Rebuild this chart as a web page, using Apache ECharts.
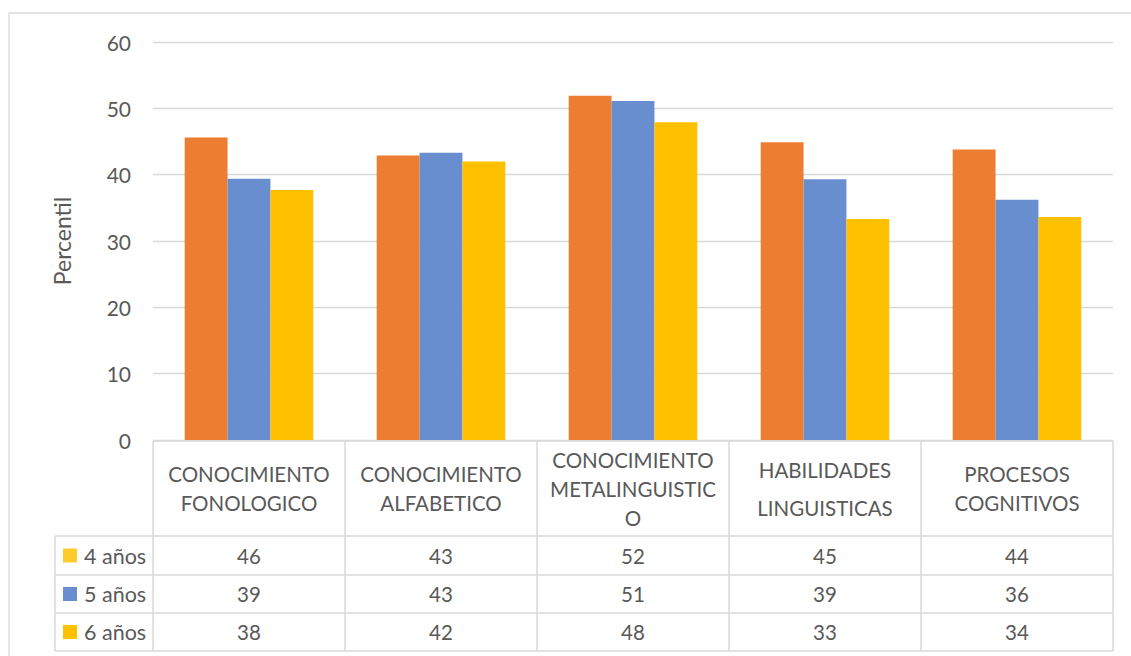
<!DOCTYPE html>
<html><head><meta charset="utf-8">
<script src="https://cdn.jsdelivr.net/npm/echarts@6/dist/echarts.min.js"></script>
<style>html,body{margin:0;padding:0;background:#fff}#c{width:1131px;height:656px}</style>
</head><body><div id="c"></div>
<script>
const categories = ['CONOCIMIENTO\nFONOLOGICO', 'CONOCIMIENTO\nALFABETICO', 'CONOCIMIENTO\nMETALINGUISTIC\nO', 'HABILIDADES\nLINGUISTICAS', 'PROCESOS\nCOGNITIVOS'];
const seriesNames = ['4 años', '5 años', '6 años'];
const values4 = [45.6, 42.9, 51.9, 44.9, 43.8];
const values5 = [39.4, 43.3, 51.1, 39.3, 36.2];
const values6 = [37.7, 42.0, 47.9, 33.3, 33.6];
const yTicks = [0, 10, 20, 30, 40, 50, 60];
const yAxisName = 'Percentil';

const seriesValues = [values4, values5, values6];
const seriesColors = ['#ED7D31', '#698ED0', '#FFC000'];
const keyColors = ['#FFCA2C', '#698ED0', '#FFC000'];
const FONT = 'Lato';
const TXT = '#595959';
const LINE = '#D9D9D9';
const FS = 20.5;

const W = 1131, H = 656;
const gridLeft = 153, gridRight = 18, gridTop = 42, gridBottom = 216;
const plotW = W - gridLeft - gridRight;
const nCat = categories.length;
const colW = plotW / nCat;
const zeroY = H - gridBottom;
const rowLines = [zeroY + 1, 536, 575, 613, 651];
const legendLeft = 55;

const chart = echarts.init(document.getElementById('c'), null, {renderer: 'svg'});

const xAxes = [{
  type: 'category', data: categories, gridIndex: 0, position: 'bottom',
  axisLine: {show: false}, axisTick: {show: false},
  axisLabel: {interval: 0, margin: (rowLines[1] - rowLines[0]) / 2 + 1, verticalAlign: 'middle',
    lineHeight: 29, fontSize: FS, fontFamily: FONT, color: TXT,
    formatter: (v, idx) => idx === 3 ? v.split('\n').map(s => '{w|' + s + '}').join('\n') : v,
    rich: {w: {lineHeight: 38, fontSize: FS, fontFamily: FONT, color: TXT}}}
}];
seriesValues.forEach((vals, i) => {
  const mid = (rowLines[i + 1] + rowLines[i + 2]) / 2;
  xAxes.push({
    type: 'category', data: vals.map(v => String(Math.round(v))), gridIndex: 0, position: 'bottom', offset: 0,
    axisLine: {show: false}, axisTick: {show: false}, splitLine: {show: false},
    axisLabel: {interval: 0, margin: mid - zeroY, verticalAlign: 'middle', fontSize: FS, fontFamily: FONT, color: TXT}
  });
});

const graphics = [];
graphics.push({type: 'rect', shape: {x: 9, y: 13, width: 1130, height: 660},
  style: {fill: 'none', stroke: LINE, lineWidth: 1.3}, silent: true});
rowLines.forEach((y, i) => {
  graphics.push({type: 'line', shape: {x1: i === 0 ? gridLeft : legendLeft, y1: y, x2: W - gridRight, y2: y},
    style: {stroke: LINE, lineWidth: 1.5}, silent: true});
});
for (let i = 0; i <= nCat; i++) {
  const x = gridLeft + i * colW;
  graphics.push({type: 'line', shape: {x1: x, y1: rowLines[0], x2: x, y2: rowLines[4]},
    style: {stroke: LINE, lineWidth: 1.5}, silent: true});
}
graphics.push({type: 'line', shape: {x1: legendLeft, y1: rowLines[1], x2: legendLeft, y2: rowLines[4]},
  style: {stroke: LINE, lineWidth: 1.5}, silent: true});
seriesNames.forEach((name, i) => {
  const mid = (rowLines[i + 1] + rowLines[i + 2]) / 2;
  graphics.push({type: 'rect', shape: {x: 63, y: mid - 7, width: 14, height: 14},
    style: {fill: keyColors[i]}, silent: true});
  graphics.push({type: 'text', x: 84, y: mid,
    style: {text: name, fontSize: FS + 1, fontFamily: FONT, fill: TXT, verticalAlign: 'middle', align: 'left'}, silent: true});
});

chart.setOption({
  animation: false,
  backgroundColor: '#fff',
  grid: {left: gridLeft, right: gridRight, top: gridTop, bottom: gridBottom, containLabel: false},
  legend: {show: false},
  xAxis: xAxes,
  yAxis: {
    type: 'value', min: yTicks[0], max: yTicks[yTicks.length - 1], interval: yTicks[1] - yTicks[0],
    name: yAxisName, nameLocation: 'middle', nameRotate: 90, nameGap: 80,
    nameTextStyle: {fontSize: 23, fontFamily: FONT, color: TXT},
    axisLine: {show: false}, axisTick: {show: false},
    axisLabel: {margin: 22, fontSize: 21, fontFamily: FONT, color: TXT},
    splitLine: {lineStyle: {color: LINE, width: 1.3}}
  },
  series: seriesNames.map((name, i) => ({
    name, type: 'bar', data: seriesValues[i], xAxisIndex: 0,
    barGap: 0, barCategoryGap: '33%',
    itemStyle: {color: seriesColors[i]}
  })),
  graphic: graphics
});
</script></body></html>
